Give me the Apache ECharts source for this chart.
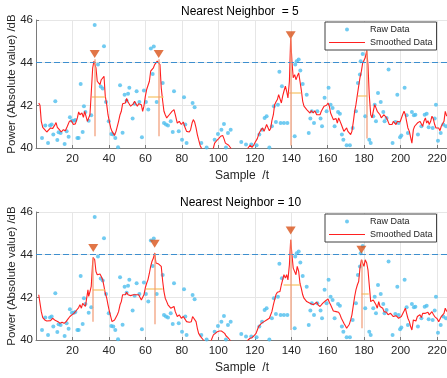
<!DOCTYPE html>
<html>
<head>
<meta charset="utf-8">
<script src="https://cdn.jsdelivr.net/npm/echarts@6/dist/echarts.min.js"></script>
<style>
  html, body { margin: 0; padding: 0; background: #fff; }
  #main { width: 447px; height: 378px; }
</style>
</head>
<body>
<div id="main"></div>
<script>
// axis ticks
var xTicks = [0, 20, 40, 60, 80, 100, 120, 140, 160, 180, 200, 220];
var yTicks = [40, 42, 44, 46];
var threshold = 44;

// raw samples (same in both panels), [sample, dB]
var rawData = [
  [3.3,40.47],[5.1,41.05],[6.6,40.23],[7.7,41.05],[8.6,41.1],[9.5,40.63],[10.6,42.19],[11.7,40.38],[12.4,40.74],[13.5,40.7],
  [15.7,40.19],[16.8,40.78],[17.9,40.53],[18.6,41.44],[19.7,41.28],[20.8,41.28],[21.6,41.31],[22.7,40.47],[23.4,40.47],[24.5,43.0],
  [25.6,40.75],[26.3,41.96],[27.1,41.69],[28.9,41.28],[30.3,41.53],[32.2,45.76],[34.0,43.91],[35.5,42.88],[36.6,42.79],[37.3,44.77],
  [38.4,42.16],[39.9,41.25],[41.3,40.66],[42.4,40.63],[43.5,40.47],[45.0,40.03],[46.1,42.94],[47.5,40.72],[48.6,42.5],[49.7,42.22],
  [50.5,42.54],[51.2,42.82],[53.0,41.38],[54.1,42.07],[55.2,42.66],[56.7,42.16],[58.1,40.5],[59.2,42.69],[60.3,42.16],[61.6,41.8],
  [63.0,44.66],[64.0,43.47],[64.6,44.76],[66.2,42.16],[69.5,43.05],[70.2,41.17],[71.3,41.1],[72.4,41.06],[73.9,41.25],[75.0,40.75],
  [75.7,42.66],[78.3,40.78],[80.1,40.39],[81.2,42.38],[81.9,41.1],[82.6,40.23],[85.9,42.11],[87.0,41.91],[90.7,40.23],[93.6,40.02],
  [98.0,40.39],[99.8,40.66],[101.7,40.86],[103.1,41.13],[104.2,40.02],[105.3,40.7],[106.8,40.86],[112.6,40.28],[115.2,40.16],[118.1,40.16],
  [121.0,40.13],[122.5,40.63],[124.0,40.86],[125.4,41.41],[126.5,41.49],[128.0,40.02],[129.4,41.02],[130.5,41.96],[131.6,41.22],[132.7,42.03],
  [133.5,43.57],[134.2,41.17],[134.9,42.9],[136.0,41.17],[137.9,41.17],[141.9,40.55],[142.2,43.91],[143.0,44.07],[144.1,44.15],[145.0,43.63],
  [146.3,43.0],[148.5,42.5],[149.6,40.7],[150.5,41.38],[151.3,41.72],[152.5,41.17],[154.3,41.72],[156.1,41.38],[156.9,41.02],[158.3,42.35],
  [159.4,41.72],[160.5,42.82],[161.6,42.03],[162.7,41.88],[163.8,41.02],[165.7,41.69],[166.7,41.6],[167.8,40.63],[168.6,40.39],[170.4,40.13],
  [172.2,40.13],[173.7,40.94],[175.5,41.72],[176.6,43.05],[177.7,43.44],[178.1,44.07],[179.2,44.41],[180.6,41.49],[182.8,40.39],[183.6,40.23],
  [185.0,41.49],[185.8,42.03],[186.5,41.25],[187.6,42.58],[189.1,42.16],[190.5,41.69],[191.2,41.25],[192.3,41.41],[193.4,43.68],[195.6,40.23],
  [197.1,41.22],[198.2,42.5],[198.9,41.17],[199.7,40.5],[200.4,40.59],[202.2,42.82],[203.3,41.53],[204.0,40.7],[206.2,41.69],[207.3,41.53],
  [208.1,41.56],[209.5,40.63],[211.4,41.02],[213.2,41.56],[214.3,41.6],[215.4,40.97],[217.6,40.94],[218.7,41.38],[219.4,42.03],[220.5,40.34],
  [222.0,40.7],[223.4,41.1],[224.9,41.02]
];

// smoothed curve, 5 nearest neighbours
var smooth5 = [
  [1.5,42.11],[2.2,42.0],[2.9,41.25],[3.7,40.97],[4.8,40.86],[5.9,40.75],[6.9,40.81],[8.0,40.94],[9.1,40.91],[10.2,41.06],
  [11.0,41.19],[11.7,40.97],[12.8,40.86],[13.9,40.75],[15.0,40.86],[16.1,40.81],[17.2,41.02],[18.3,41.25],[19.4,41.28],[20.5,41.1],
  [21.6,41.13],[22.7,41.41],[23.4,41.69],[24.1,41.56],[25.2,41.64],[26.0,41.44],[26.7,41.72],[27.4,41.63],[28.2,41.25],[28.9,41.41],
  [29.6,41.56],[30.3,42.58],[31.1,43.76],[31.8,44.07],[32.2,44.16],[32.9,43.76],[33.6,43.13],[34.4,43.05],[35.1,42.97],[35.8,43.2],
  [36.6,43.29],[37.3,43.36],[38.0,42.43],[38.8,42.03],[39.5,41.56],[40.2,41.25],[41.0,40.94],[41.7,40.78],[42.4,40.7],[43.1,40.59],
  [43.9,40.78],[44.6,40.86],[45.3,41.25],[46.1,41.56],[46.8,41.72],[47.5,42.07],[48.3,42.16],[49.0,42.11],[49.7,42.32],[50.5,42.16],
  [51.2,42.11],[51.9,41.96],[52.7,42.0],[53.4,42.07],[54.1,42.19],[54.8,42.07],[55.6,41.96],[56.3,42.07],[57.0,42.16],[57.8,42.03],
  [58.5,41.72],[59.2,41.96],[60.0,42.43],[60.7,42.74],[61.4,42.69],[62.2,43.13],[62.9,43.6],[63.6,43.68],[64.4,43.76],[65.1,43.91],
  [65.8,43.83],[66.5,44.07],[67.3,44.16],[68.0,43.91],[68.7,42.82],[69.5,42.19],[70.2,41.72],[70.9,41.56],[71.7,41.41],[72.4,41.49],
  [73.1,41.56],[73.9,41.64],[74.6,41.72],[75.7,41.8],[76.4,41.56],[77.5,41.17],[78.6,41.25],[79.7,41.1],[80.8,41.22],[81.5,41.02],
  [82.6,40.78],[83.4,40.86],[84.1,40.75],[84.8,40.86],[85.6,41.17],[86.3,41.33],[87.0,41.22],[87.8,40.94],[88.5,40.63],[89.2,40.39],
  [90.0,40.13],[90.7,40.0],[92.0,39.7],[95.0,39.6],[97.3,40.0],[98.0,40.23],[99.1,40.34],[100.2,40.44],[101.3,40.55],[102.4,40.59],
  [103.1,40.44],[103.9,40.23],[104.6,40.31],[105.7,40.13],[106.8,40.0],[109.0,39.6],[113.0,39.5],[116.3,40.0],[117.4,40.13],[118.5,40.03],
  [119.6,40.16],[120.3,40.28],[121.4,40.44],[122.1,40.63],[122.9,40.78],[123.6,40.7],[124.3,40.94],[125.1,40.78],[125.8,40.86],[126.5,41.1],
  [127.3,41.02],[128.0,40.81],[128.7,40.91],[129.4,41.28],[130.2,41.56],[130.9,42.03],[131.6,42.16],[132.4,42.27],[133.1,42.5],[133.8,42.43],
  [134.6,42.11],[135.3,42.43],[136.0,42.66],[136.8,42.9],[137.5,42.66],[138.2,42.35],[139.0,43.13],[139.7,45.16],[140.4,44.07],[141.1,43.29],
  [141.9,43.44],[142.6,43.2],[143.3,43.36],[144.1,43.52],[144.8,43.13],[145.5,42.74],[146.3,42.19],[147.0,41.96],[147.7,42.03],[148.5,41.8],
  [149.2,41.72],[150.3,41.64],[151.0,41.75],[152.1,41.64],[152.9,41.75],[154.0,41.56],[154.7,41.64],[155.8,41.56],[156.5,41.72],[157.2,41.8],
  [158.0,41.96],[158.7,41.88],[159.4,42.0],[160.2,42.11],[160.9,41.96],[161.6,41.64],[162.4,41.56],[163.1,41.33],[163.8,41.25],[164.6,41.38],
  [165.3,41.17],[166.0,41.41],[166.8,41.25],[167.5,41.1],[168.2,40.94],[168.9,40.78],[169.7,40.7],[170.4,40.94],[171.1,40.78],[171.9,40.7],
  [172.6,40.63],[173.3,40.78],[174.1,41.25],[174.8,41.72],[175.5,42.03],[176.3,42.5],[177.0,42.9],[177.7,43.29],[178.5,43.6],[179.2,43.99],
  [179.9,43.91],[180.6,44.23],[181.4,44.57],[182.1,43.91],[182.8,42.5],[183.6,41.56],[184.3,41.41],[185.0,41.72],[185.8,42.03],[186.5,41.88],
  [187.2,41.72],[188.0,41.8],[188.7,41.56],[189.4,41.41],[190.2,41.33],[190.9,41.56],[191.6,41.64],[192.3,41.41],[193.1,41.25],[193.8,41.1],
  [194.5,41.17],[195.3,41.1],[196.0,41.25],[196.7,41.17],[197.5,41.1],[198.2,41.25],[198.9,41.33],[199.7,41.22],[200.4,41.25],[201.1,41.56],
  [201.9,41.72],[202.6,41.56],[203.3,41.25],[204.0,40.94],[204.8,40.78],[205.5,40.5],[206.2,40.23],[207.0,40.86],[207.7,41.02],[208.4,40.94],
  [209.2,41.17],[209.9,41.1],[210.6,41.25],[211.4,41.17],[212.1,41.02],[212.8,41.25],[213.6,41.41],[214.3,41.17],[215.0,41.28],[215.7,41.1],
  [216.5,41.25],[217.2,41.49],[217.9,41.38],[218.7,41.1],[219.4,40.94],[220.1,40.86],[220.9,40.94],[221.6,40.81],[222.3,41.02],[223.1,41.1],
  [223.8,41.25],[224.5,41.72],[225.3,41.49]
];

// smoothed curve, 10 nearest neighbours
var smooth10 = [
  [1.5,42.12],[2.2,42.04],[2.9,41.33],[3.7,41.05],[4.8,40.94],[5.9,40.89],[6.9,40.94],[8.0,40.91],[9.1,41.02],[10.2,40.94],
  [11.0,41.02],[12.1,40.86],[13.2,40.78],[14.3,40.83],[15.4,40.78],[16.5,40.86],[17.6,40.99],[18.6,41.1],[19.7,41.18],[20.8,41.25],
  [21.9,41.36],[22.7,41.33],[23.4,41.52],[24.1,41.65],[24.9,41.49],[25.6,41.72],[26.3,41.65],[27.1,41.57],[27.8,41.96],[28.5,42.35],
  [28.9,42.04],[29.6,42.27],[30.3,42.51],[31.1,43.68],[31.4,43.87],[32.2,43.76],[32.9,43.21],[33.6,43.06],[34.4,43.06],[35.1,43.09],
  [35.8,42.98],[36.6,42.82],[37.3,42.51],[38.0,42.19],[38.8,41.96],[39.5,41.65],[40.2,41.36],[41.0,41.1],[41.7,40.86],[42.4,40.89],
  [43.1,40.94],[43.9,41.02],[44.6,41.18],[45.3,41.33],[46.1,41.65],[46.8,41.8],[47.5,42.12],[48.3,42.19],[49.0,42.12],[49.7,42.24],
  [50.5,42.12],[51.2,42.15],[51.9,42.08],[52.7,42.15],[53.4,42.12],[54.1,42.04],[54.8,42.12],[55.6,42.15],[56.3,42.12],[57.0,42.04],
  [57.8,41.88],[58.5,41.8],[59.2,42.12],[60.0,42.46],[60.7,42.66],[61.4,42.82],[62.2,43.13],[62.9,43.45],[63.6,43.68],[64.4,43.84],
  [65.1,44.08],[65.8,43.61],[66.5,43.53],[67.3,43.56],[68.0,43.65],[68.7,43.45],[69.5,42.74],[70.2,42.27],[70.9,41.96],[71.7,41.8],
  [72.4,41.65],[73.1,41.57],[73.9,41.49],[74.6,41.49],[75.7,41.57],[76.4,41.33],[77.5,41.1],[78.6,41.18],[79.7,41.02],[80.8,41.1],
  [81.5,41.02],[82.6,40.86],[83.4,40.94],[84.1,40.83],[85.2,40.86],[85.9,41.1],[86.7,41.05],[87.8,40.86],[88.5,40.55],[89.2,40.31],
  [90.3,40.16],[91.1,40.08],[91.8,40.0],[94.0,39.7],[96.2,40.0],[97.3,40.24],[98.4,40.31],[99.5,40.39],[100.6,40.42],[101.7,40.42],
  [102.4,40.39],[103.5,40.31],[104.2,40.2],[105.3,40.11],[106.4,40.0],[110.0,39.6],[113.0,39.6],[116.3,40.0],[117.4,40.08],[118.5,40.11],
  [119.6,40.2],[120.7,40.31],[121.4,40.47],[122.1,40.63],[122.9,40.71],[123.6,40.78],[124.3,40.83],[125.1,40.86],[125.8,40.94],[126.5,40.94],
  [127.3,40.89],[128.0,41.02],[128.7,41.1],[129.4,41.33],[130.2,41.65],[130.9,41.88],[131.6,42.12],[132.4,42.24],[133.1,42.19],[133.8,42.27],
  [134.6,42.59],[135.3,42.82],[136.0,43.06],[136.8,42.9],[137.5,43.06],[138.2,42.82],[139.0,43.53],[139.7,44.7],[140.4,44.0],[141.1,43.37],
  [141.9,43.29],[142.6,43.06],[143.3,43.45],[144.1,43.21],[144.8,42.66],[145.5,42.43],[146.3,42.12],[147.0,41.96],[147.7,41.88],[148.5,41.8],
  [149.2,41.77],[150.3,41.72],[151.0,41.77],[152.1,41.65],[152.9,41.68],[154.0,41.77],[154.7,41.65],[155.8,41.57],[156.5,41.65],[157.2,41.72],
  [158.0,41.77],[158.7,41.83],[159.4,41.88],[160.2,41.93],[160.9,41.77],[161.6,41.65],[162.4,41.57],[163.1,41.36],[163.8,41.3],[164.6,41.33],
  [165.3,41.25],[166.0,41.3],[166.8,41.18],[167.5,41.02],[168.2,40.94],[168.9,40.78],[169.7,40.67],[170.4,40.55],[171.1,40.63],[171.9,40.74],
  [172.6,40.94],[173.3,41.18],[174.1,41.65],[174.8,42.04],[175.5,42.35],[176.3,42.59],[177.0,42.74],[177.7,43.37],[178.5,43.76],[179.2,43.68],
  [179.9,43.45],[180.6,43.76],[181.4,43.61],[182.1,43.29],[182.8,42.59],[183.6,41.8],[184.3,41.72],[185.0,41.88],[185.8,41.8],[186.5,41.65],
  [187.2,41.49],[188.0,41.8],[188.7,41.57],[189.4,41.65],[190.2,41.49],[190.9,41.33],[191.6,41.25],[192.3,41.3],[193.1,41.18],[193.8,41.1],
  [194.5,41.25],[195.3,41.33],[196.0,41.1],[196.7,41.02],[197.5,41.14],[198.2,41.1],[198.9,41.02],[199.7,40.94],[200.4,41.1],[201.1,41.18],
  [201.9,41.36],[202.6,41.49],[203.3,41.25],[204.0,41.02],[204.8,40.86],[205.5,40.63],[206.2,40.47],[207.0,40.94],[207.7,40.86],[208.4,40.89],
  [209.2,41.1],[209.9,41.02],[210.6,41.18],[211.4,41.05],[212.1,41.25],[212.8,41.18],[213.6,41.25],[214.3,41.18],[215.0,41.3],[215.7,41.18],
  [216.5,41.25],[217.2,41.33],[217.9,41.21],[218.7,41.1],[219.4,41.02],[220.1,40.99],[220.9,40.86],[221.6,40.94],[222.3,41.1],[223.1,41.18],
  [223.8,41.25],[224.5,41.49],[225.3,41.33]
];

// peaks, NN = 5
var peakX5 = [32.2, 67.3, 139.7, 181.4];
var peakY5 = [44.16, 44.16, 45.16, 44.57];
var markY5 = [44.41, 44.41, 45.29, 44.95];
var baseY5 = [40.55, 40.55, 40.12, 40.44];
var halfY5 = [42.39, 42.39, 42.61, 42.46];
var halfL5 = [30.7, 61.5, 138.6, 176.6];
var halfR5 = [38.0, 70.0, 145.5, 181.7];

// peaks, NN = 10
var peakX10 = [31.4, 65.1, 139.7, 178.5];
var peakY10 = [43.87, 44.08, 44.7, 43.76];
var markY10 = [44.31, 44.51, 45.13, 44.23];
var baseY10 = [40.86, 40.74, 40.47, 40.55];
var halfY10 = [42.35, 42.4, 42.59, 42.19];
var halfL10 = [31.1, 60.3, 135.8, 178.5];
var halfR10 = [38.0, 69.5, 145.0, 182.5];

var FONT = '"Liberation Sans", Arial, Helvetica, sans-serif';
var AXIS_COLOR = '#7a7a7a';

var myChart = echarts.init(document.getElementById('main'));

function makeGrid(top) {
  return { left: 36, top: top, width: 412, height: 128, outerBoundsMode: 'none', containLabel: false };
}

function makeXAxis(idx) {
  return {
    gridIndex: idx, type: 'value',
    min: xTicks[0], max: 226, interval: xTicks[1] - xTicks[0],
    name: 'Sample  /t', nameLocation: 'middle', nameGap: 22, nameMoveOverlap: false,
    nameTextStyle: { fontSize: 12, color: '#262626', fontFamily: FONT },
    axisLine: { show: true, onZero: false, lineStyle: { color: AXIS_COLOR, width: 1 } },
    axisTick: { show: true, inside: true, length: 3, lineStyle: { color: AXIS_COLOR } },
    axisLabel: { color: '#262626', fontSize: 11.5, margin: 5, fontFamily: FONT, showMinLabel: false, showMaxLabel: false },
    splitLine: { show: true, lineStyle: { color: '#e6e6e6', width: 1 } }
  };
}

function makeYAxis(idx) {
  return {
    gridIndex: idx, type: 'value',
    min: yTicks[0], max: yTicks[yTicks.length - 1], interval: yTicks[1] - yTicks[0],
    name: 'Power (Absolute value) /dB', nameLocation: 'middle', nameGap: 18, nameMoveOverlap: false,
    nameTextStyle: { fontSize: 11.5, color: '#262626', fontFamily: FONT },
    axisLine: { show: true, onZero: false, lineStyle: { color: AXIS_COLOR, width: 1 } },
    axisTick: { show: true, inside: true, length: 3, lineStyle: { color: AXIS_COLOR } },
    axisLabel: { color: '#262626', fontSize: 11.5, margin: 3, fontFamily: FONT },
    splitLine: { show: true, lineStyle: { color: '#e6e6e6', width: 1 } }
  };
}

function makeLegend(top) {
  return {
    data: [
      { name: 'Raw Data' },
      { name: 'Smoothed Data', icon: 'path://M0,0L36,0L36,1L0,1Z' }
    ],
    orient: 'vertical', left: 325, top: top,
    itemWidth: 36, itemHeight: 4, itemGap: 0,
    padding: [1, 4, 1, 4],
    backgroundColor: '#fff', borderColor: '#404040', borderWidth: 1, borderRadius: 0,
    textStyle: { fontSize: 9, lineHeight: 13, color: '#262626', fontFamily: FONT },
    selectedMode: false, z: 10
  };
}

function panelSeries(idx, smooth, pkX, pkY, mkY, base, hY, hL, hR) {
  var promLines = pkX.map(function (x, i) {
    return [{ coord: [x, pkY[i]] }, { coord: [x, base[i]] }];
  });
  var widthLines = hY.map(function (y, i) {
    return [{ coord: [hL[i], y] }, { coord: [hR[i], y] }];
  });
  return [
    {
      name: 'Raw Data', type: 'scatter', xAxisIndex: idx, yAxisIndex: idx,
      data: rawData, symbol: 'circle', symbolSize: 4, clip: true,
      itemStyle: { color: '#4DBEEE' }, z: 2,
      markLine: {
        silent: true, symbol: 'none', label: { show: false },
        lineStyle: { color: '#3d8fcf', type: [6, 3], width: 1 },
        data: [{ yAxis: threshold }]
      }
    },
    {
      name: 'Smoothed Data', type: 'line', xAxisIndex: idx, yAxisIndex: idx,
      data: smooth, showSymbol: false, symbol: 'none', clip: true,
      lineStyle: { color: '#ff2020', width: 1.1 }, itemStyle: { color: '#ff2020' }, z: 3,
      markLine: {
        silent: true, symbol: 'none', label: { show: false },
        lineStyle: { color: '#f7c46a', type: 'solid', width: 1.5, opacity: 0.85 },
        data: widthLines
      }
    },
    {
      name: 'Peaks', type: 'scatter', xAxisIndex: idx, yAxisIndex: idx,
      data: pkX.map(function (x, i) { return [x, mkY[i]]; }),
      symbol: 'triangle', symbolRotate: 180, symbolSize: [10, 8],
      itemStyle: { color: '#D95319' }, z: 4,
      markLine: {
        silent: true, symbol: 'none', label: { show: false },
        lineStyle: { color: '#f39a73', type: 'solid', width: 1.5, opacity: 0.8 },
        data: promLines
      }
    }
  ];
}

var option = {
  animation: false,
  backgroundColor: '#fff',
  textStyle: { fontFamily: FONT },
  title: [
    { text: 'Nearest Neighbor  = 5', left: 181, top: 6, textStyle: { fontSize: 12, fontWeight: 'normal', color: '#000', fontFamily: FONT }, padding: 0 },
    { text: 'Nearest Neighbor = 10', left: 180, top: 197, textStyle: { fontSize: 12, fontWeight: 'normal', color: '#000', fontFamily: FONT }, padding: 0 }
  ],
  legend: [makeLegend(22), makeLegend(214)],
  grid: [makeGrid(20), makeGrid(212)],
  xAxis: [makeXAxis(0), makeXAxis(1)],
  yAxis: [makeYAxis(0), makeYAxis(1)],
  series: []
    .concat(panelSeries(0, smooth5, peakX5, peakY5, markY5, baseY5, halfY5, halfL5, halfR5))
    .concat(panelSeries(1, smooth10, peakX10, peakY10, markY10, baseY10, halfY10, halfL10, halfR10))
};

myChart.setOption(option);
</script>
</body>
</html>
